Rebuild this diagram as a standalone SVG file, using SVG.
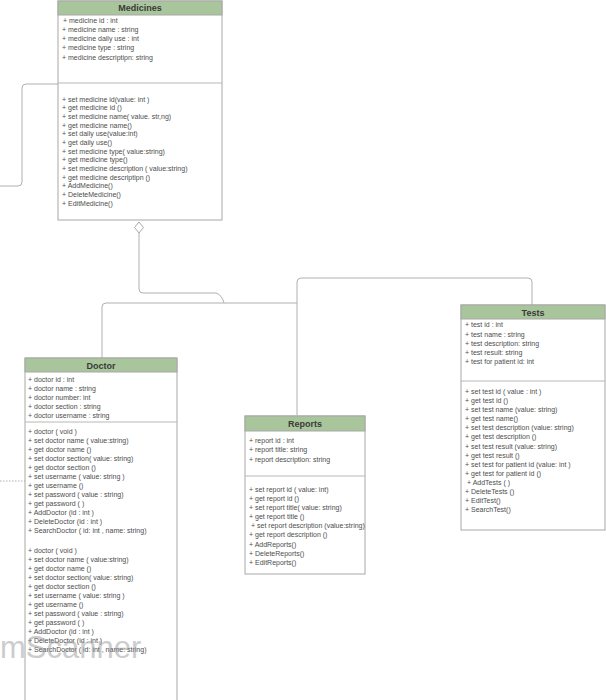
<svg xmlns="http://www.w3.org/2000/svg" width="606" height="700" viewBox="0 0 606 700">
<style>
.box{fill:#ffffff;stroke:#a8a8a8;stroke-width:1}
.hdr{fill:#a9c59b;stroke:#a8a8a8;stroke-width:1}
.div{stroke:#b8b8b8;stroke-width:1}
.title{font-family:"Liberation Sans",Arial,sans-serif;font-size:9px;font-weight:bold;fill:#3a3a3a;text-anchor:middle}
.t{font-family:"Liberation Sans",Arial,sans-serif;font-size:7px;fill:#4d4d4d}
.conn{fill:none;stroke:#b0b0b0;stroke-width:1}
.wm{font-family:"Liberation Sans",Arial,sans-serif;font-size:31px;fill:#9a9a9a;opacity:0.5}
</style>
<rect width="606" height="700" fill="#ffffff"/>
<g id="connectors">
<path class="conn" d="M0 186 H18 Q22 186 22 182 V88 Q22 84 26 84 H58"/>
<path class="conn" d="M139 233 V289 Q139 293 143 293 H216 Q222 295 224 303"/>
<path class="conn" d="M102 358 V307 Q102 303 106 303 H297"/>
<path class="conn" d="M297 415 V282 Q297 278 301 278 H528 Q532 278 532 282 V305"/>
<path class="conn" d="M0 481 H25" stroke-dasharray="1.5,1.5"/>
<polygon points="139,222 143.5,227.5 139,233 134.5,227.5" fill="#ffffff" stroke="#a8a8a8" stroke-width="1"/>
</g>
<g id="medicines">
<rect class="box" x="58" y="1" width="164" height="219"/>
<rect class="hdr" x="58" y="1" width="164" height="14"/>
<text class="title" x="140" y="11">Medicines</text>
<line class="div" x1="58" y1="83" x2="222" y2="83"/>
<text class="t" x="63" y="23">+ medicine id : int</text>
<text class="t" x="62" y="32">+ medicine name : string</text>
<text class="t" x="62" y="41">+ medicine daily use : int</text>
<text class="t" x="62" y="50">+ medicine type : string</text>
<text class="t" x="62" y="60">+ medicine descriptipn: string</text>
<text class="t" x="62" y="102">+ set medicine id(value: int )</text>
<text class="t" x="62" y="110">+ get medicine id ()</text>
<text class="t" x="62" y="119">+ set medicine name( value. str,ng)</text>
<text class="t" x="62" y="128">+ get medicine name()</text>
<text class="t" x="62" y="136">+ set daily use(value:int)</text>
<text class="t" x="62" y="145">+ get daily use()</text>
<text class="t" x="62" y="154">+ set medicine type( value:string)</text>
<text class="t" x="62" y="162">+ get medicine type()</text>
<text class="t" x="62" y="171">+ set medicine description ( value:string)</text>
<text class="t" x="62" y="180">+ get medicine descriptipn ()</text>
<text class="t" x="62" y="188">+ AddMedicine()</text>
<text class="t" x="62" y="197">+ DeleteMedicine()</text>
<text class="t" x="62" y="206">+ EditMedicine()</text>
</g>
<g id="doctor">
<path class="box" d="M25 700 V358 H177 V700"/>
<rect class="hdr" x="25" y="358" width="152" height="14"/>
<text class="title" x="101" y="368.5">Doctor</text>
<line class="div" x1="25" y1="422" x2="177" y2="422"/>
<text class="t" x="28" y="382">+ doctor id : int</text>
<text class="t" x="28" y="391">+ doctor name : string</text>
<text class="t" x="28" y="400">+ doctor number: int</text>
<text class="t" x="28" y="409">+ doctor section : string</text>
<text class="t" x="28" y="418">+ doctor username : string</text>
<text class="t" x="28" y="434">+ doctor ( void )</text>
<text class="t" x="28" y="443">+ set doctor name ( value:string)</text>
<text class="t" x="28" y="452">+ get doctor name ()</text>
<text class="t" x="28" y="461">+ set doctor section( value: string)</text>
<text class="t" x="28" y="470">+ get doctor section ()</text>
<text class="t" x="28" y="479">+ set username ( value: string )</text>
<text class="t" x="28" y="488">+ get username ()</text>
<text class="t" x="28" y="497">+ set password ( value : string)</text>
<text class="t" x="28" y="506">+ get password ( )</text>
<text class="t" x="28" y="515">+ AddDoctor (id : int )</text>
<text class="t" x="28" y="524">+ DeleteDoctor (id : int  )</text>
<text class="t" x="28" y="533">+ SearchDoctor ( id: int , name: string)</text>
<text class="t" x="28" y="553">+ doctor ( void )</text>
<text class="t" x="28" y="562">+ set doctor name ( value:string)</text>
<text class="t" x="28" y="571">+ get doctor name ()</text>
<text class="t" x="28" y="580">+ set doctor section( value: string)</text>
<text class="t" x="28" y="589">+ get doctor section ()</text>
<text class="t" x="28" y="598">+ set username ( value: string )</text>
<text class="t" x="28" y="607">+ get username ()</text>
<text class="t" x="28" y="616">+ set password ( value : string)</text>
<text class="t" x="28" y="625">+ get password ( )</text>
<text class="t" x="28" y="634">+ AddDoctor (id : int )</text>
<text class="t" x="28" y="643">+ DeleteDoctor (id : int )</text>
<text class="t" x="28" y="652">+ SearchDoctor ( id: int , name: string)</text>
</g>
<g id="reports">
<rect class="box" x="245" y="416" width="120" height="158"/>
<rect class="hdr" x="245" y="416" width="120" height="15"/>
<text class="title" x="305" y="426.5">Reports</text>
<line class="div" x1="245" y1="476" x2="365" y2="476"/>
<text class="t" x="249" y="443">+ report id : int</text>
<text class="t" x="249" y="452">+ report title: string</text>
<text class="t" x="249" y="462">+ report description: string</text>
<text class="t" x="249" y="492">+ set report id ( value: int)</text>
<text class="t" x="249" y="501">+ get report id ()</text>
<text class="t" x="249" y="510">+ set report title( value: string)</text>
<text class="t" x="249" y="519">+ get report title ()</text>
<text class="t" x="251" y="528">+ set report description (value:string)</text>
<text class="t" x="249" y="537">+ get report description ()</text>
<text class="t" x="249" y="547">+ AddReports()</text>
<text class="t" x="249" y="556">+ DeleteReports()</text>
<text class="t" x="249" y="565">+ EditReports()</text>
</g>
<g id="tests">
<rect class="box" x="461" y="305" width="144" height="225"/>
<rect class="hdr" x="461" y="305" width="144" height="14"/>
<text class="title" x="533" y="315.5">Tests</text>
<line class="div" x1="461" y1="381" x2="605" y2="381"/>
<text class="t" x="465" y="327">+ test id : int</text>
<text class="t" x="465" y="337">+ test name : string</text>
<text class="t" x="465" y="346">+ test description:  string</text>
<text class="t" x="465" y="355">+ test result: string</text>
<text class="t" x="465" y="364">+ test for patient id: int</text>
<text class="t" x="465" y="394">+ set test id ( value : int )</text>
<text class="t" x="465" y="403">+ get test id ()</text>
<text class="t" x="465" y="412">+ set test name (value: string)</text>
<text class="t" x="465" y="421">+ get test name()</text>
<text class="t" x="465" y="430">+ set test  description (value: string)</text>
<text class="t" x="465" y="439">+ get test description ()</text>
<text class="t" x="465" y="449">+ set test result (value: string)</text>
<text class="t" x="465" y="458">+ get test result ()</text>
<text class="t" x="465" y="467">+ set test  for patient id (value: int )</text>
<text class="t" x="465" y="476">+ get test for patient id ()</text>
<text class="t" x="467" y="485">+ AddTests ( )</text>
<text class="t" x="465" y="494">+ DeleteTests ()</text>
<text class="t" x="465" y="503">+ EditTest()</text>
<text class="t" x="465" y="512">+ SearchTest()</text>
</g>
<text class="wm" x="0" y="658">mScanner</text>
</svg>
